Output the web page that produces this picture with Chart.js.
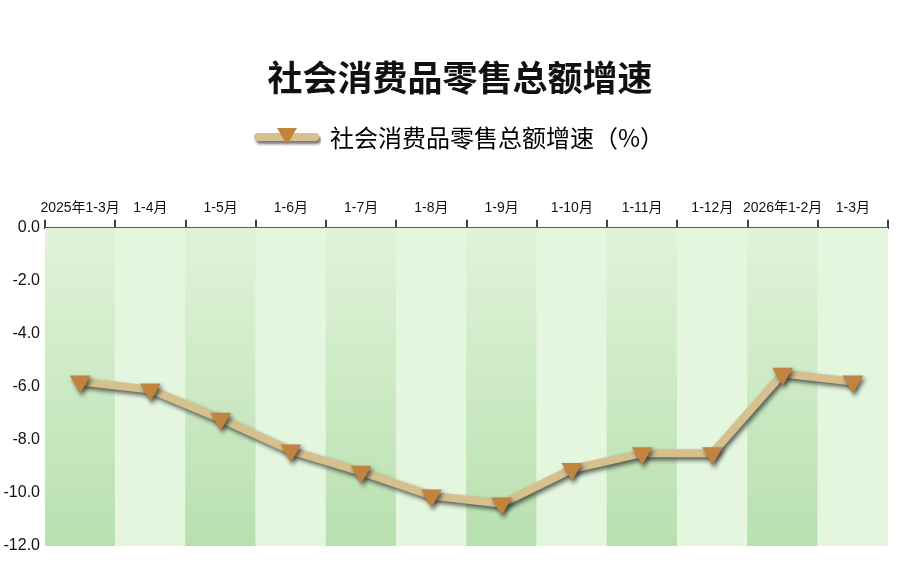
<!DOCTYPE html>
<html>
<head>
<meta charset="utf-8">
<script src="https://cdn.jsdelivr.net/npm/chart.js@4/dist/chart.umd.min.js"></script>
<style>
  html, body { margin: 0; padding: 0; background: #fff; }
  #wrap { width: 920px; height: 578px; }
</style>
</head>
<body>
<div id="wrap"><canvas id="myChart" width="920" height="578"></canvas></div>
<script>
  // data
  const labels = ['2025年1-3月', '1-4月', '1-5月', '1-6月', '1-7月', '1-8月',
    '1-9月', '1-10月', '1-11月', '1-12月', '2026年1-2月', '1-3月'];
  const growth = [-5.8, -6.1, -7.2, -8.4, -9.2, -10.1, -10.4, -9.1, -8.5, -8.5, -5.5, -5.8];
  const yTicks = [0, -2, -4, -6, -8, -10, -12];
  const seriesName = '社会消费品零售总额增速（%）';

  // background bands, one per category, down to the axis minimum
  const bands = labels.map(function(){ return yTicks[yTicks.length - 1]; });

  //legend icon: thick line with a down triangle
  const icon = document.createElement('canvas');
  icon.width = 68; icon.height = 28;
  (function(){
    const c = icon.getContext('2d');
    c.save();
    c.shadowColor = 'rgba(60,60,60,0.7)';
    c.shadowBlur = 3;
    c.shadowOffsetX = 2;
    c.shadowOffsetY = 3;
    c.strokeStyle = '#d5c08e';
    c.lineWidth = 8;
    c.lineCap = 'round';
    c.beginPath(); c.moveTo(5, 13); c.lineTo(62, 13); c.stroke();
    c.restore();
    c.fillStyle = '#c0843e';
    c.beginPath(); c.moveTo(24, 4); c.lineTo(44, 4); c.lineTo(34, 21); c.closePath(); c.fill();
  })();

  function bandColor(context){
    const chart = context.chart;
    const area = chart.chartArea;
    if (!area) return '#d0ebc8';
    if (context.dataIndex % 2 === 1) return '#e4f6de';
    const g = chart.ctx.createLinearGradient(0, area.top, 0, area.bottom);
    g.addColorStop(0, '#e0f3d9');
    g.addColorStop(1, '#b8e0af');
    return g;
  }

  // shadow under the line
  const lineShadow = {
    id: 'lineShadow',
    beforeDatasetDraw: function(chart, args){
      if (args.index !== 0) return;
      const ctx = chart.ctx;
      ctx.save();
      ctx.shadowColor = 'rgba(50,50,50,0.75)';
      ctx.shadowBlur = 4;
      ctx.shadowOffsetX = 2;
      ctx.shadowOffsetY = 3;
    },
    afterDatasetDraw: function(chart, args){
      if (args.index !== 0) return;
      chart.ctx.restore();
    }
  };

  // extra room below the legend
  const legendGap = {
    id: 'legendGap',
    beforeInit: function(chart){
      const fit = chart.legend.fit;
      chart.legend.fit = function(){
        fit.bind(chart.legend)();
        this.height += 37;
      };
    }
  };

  const data = {
    labels: labels,
    datasets: [{
      type: 'line',
      label: seriesName,
      data: growth,
      borderColor: '#d5c08e',
      borderWidth: 8,
      tension: 0,
      pointStyle: 'triangle',
      rotation: 180,
      pointRadius: 12,
      pointBackgroundColor: '#c0843e',
      pointBorderColor: '#c0843e',
      pointBorderWidth: 0,
      order: 0
    }, {
      type: 'bar',
      label: 'bands',
      data: bands,
      backgroundColor: bandColor,
      barPercentage: 1,
      categoryPercentage: 1,
      order: 1
    }]
  };

  const config = {
    data: data,
    plugins: [lineShadow, legendGap],
    options: {
      responsive: false,
      animation: false,
      layout: { padding: { left: 0, right: 0, bottom: 32, top: 0 } },
      plugins: {
        title: {
          display: true,
          text: '社会消费品零售总额增速',
          color: '#111',
          font: { family: '"Noto Sans CJK SC", sans-serif', size: 35, weight: 'bold' },
          padding: { top: 57, bottom: 17 }
        },
        legend: {
          labels: {
            usePointStyle: true,
            pointStyleWidth: 62,
            color: '#222',
            font: { family: '"Noto Sans CJK SC", sans-serif', size: 24 },
            padding: 10,
            generateLabels: function(chart){
              return [{ text: seriesName, pointStyle: icon, datasetIndex: 0,
                fillStyle: '#c0843e', strokeStyle: '#c0843e', lineWidth: 0 }];
            }
          }
        },
        tooltip: { enabled: false }
      },
      scales: {
        x: {
          position: 'top',
          offset: true,
          grid: { display: true, drawOnChartArea: false, offset: true, tickLength: 8, color: '#444', lineWidth: 2 },
          border: { display: true, color: '#444', width: 2 },
          ticks: { color: '#111', font: { family: 'Arial, "Noto Sans CJK SC", sans-serif', size: 14 }, padding: 3, maxRotation: 0, autoSkip: false }
        },
        y: {
          min: -12,
          max: 0,
          afterFit: function(scale){ scale.width = 45; },
          grid: { display: false, drawTicks: false },
          border: { display: false },
          ticks: {
            stepSize: 2,
            color: '#111',
            font: { family: 'Arial, "Liberation Sans", sans-serif', size: 16 },
            padding: 5,
            callback: function(v){ return yTicks.indexOf(v) >= 0 ? v.toFixed(1) : null; }
          }
        },
        // empty right gutter so title and legend stay centred on the page
        yRight: {
          position: 'right',
          min: -12,
          max: 0,
          afterFit: function(scale){ scale.width = 32; },
          grid: { display: false, drawTicks: false },
          border: { display: false },
          ticks: { display: false }
        }
      }
    }
  };

  //create the chart
  const myChart = new Chart(document.getElementById('myChart'), config);
</script>
</body>
</html>
